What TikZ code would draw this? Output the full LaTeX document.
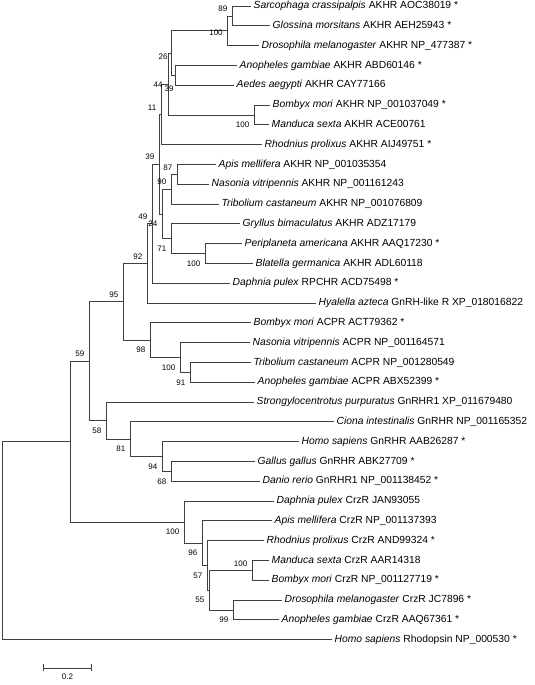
\documentclass[tikz,border=0pt]{standalone}
\usepackage{fontspec}
\setmainfont{Liberation Sans}
\usepackage{tikz}
\usetikzlibrary{arrows.meta,positioning}

\begin{document}
\begin{tikzpicture}[x=1pt,y=-19.8pt,
      br/.style={draw=black!75,line width=.7pt},
      leaf/.style={anchor=west,inner xsep=2.5pt,inner ysep=0pt,text height=7.4pt,text depth=2.2pt,
        font=\fontsize{10.3}{12}\selectfont},
      bs/.style={inner sep=1pt,font=\fontsize{8}{9.6}\selectfont},
      bsa/.style={bs,anchor=east,xshift=-3.5pt,yshift=7pt},
      bsb/.style={bs,anchor=east,xshift=-3.5pt,yshift=-10pt}]
  \useasboundingbox (0pt,6pt) rectangle (535pt,-679pt);
  % taxa
  \node[leaf] (scAKHR) at (251,0) {\textit{Sarcophaga crassipalpis} AKHR AOC38019 *};
  \node[leaf] (gmAKHR) at (270,1) {\textit{Glossina morsitans} AKHR AEH25943 *};
  \node[leaf] (dmAKHR) at (259,2) {\textit{Drosophila melanogaster} AKHR NP\_477387 *};
  \node[leaf] (agAKHR) at (237,3) {\textit{Anopheles gambiae} AKHR ABD60146 *};
  \node[leaf] (aeAKHR) at (234,4) {\textit{Aedes aegypti} AKHR CAY77166};
  \node[leaf] (bmAKHR) at (270,5) {\textit{Bombyx mori} AKHR NP\_001037049 *};
  \node[leaf] (msAKHR) at (269,6) {\textit{Manduca sexta} AKHR ACE00761};
  \node[leaf] (rpAKHR) at (262,7) {\textit{Rhodnius prolixus} AKHR AIJ49751 *};
  \node[leaf] (amAKHR) at (216,8) {\textit{Apis mellifera} AKHR NP\_001035354};
  \node[leaf] (nvAKHR) at (209,9) {\textit{Nasonia vitripennis} AKHR NP\_001161243};
  \node[leaf] (tcAKHR) at (219,10) {\textit{Tribolium castaneum} AKHR NP\_001076809};
  \node[leaf] (gbAKHR) at (240,11) {\textit{Gryllus bimaculatus} AKHR ADZ17179};
  \node[leaf] (paAKHR) at (242,12) {\textit{Periplaneta americana} AKHR AAQ17230 *};
  \node[leaf] (bgAKHR) at (253,13) {\textit{Blatella germanica} AKHR ADL60118};
  \node[leaf] (dpRPCHR) at (230,14) {\textit{Daphnia pulex} RPCHR ACD75498 *};
  \node[leaf] (haGnRH) at (316,15) {\textit{Hyalella azteca} GnRH-like R XP\_018016822};
  \node[leaf] (bmACPR) at (251,16) {\textit{Bombyx mori} ACPR ACT79362 *};
  \node[leaf] (nvACPR) at (250,17) {\textit{Nasonia vitripennis} ACPR NP\_001164571};
  \node[leaf] (tcACPR) at (251,18) {\textit{Tribolium castaneum} ACPR NP\_001280549};
  \node[leaf] (agACPR) at (255,19) {\textit{Anopheles gambiae} ACPR ABX52399 *};
  \node[leaf] (spGnRHR) at (254,20) {\textit{Strongylocentrotus purpuratus} GnRHR1 XP\_011679480};
  \node[leaf] (ciGnRHR) at (334,21) {\textit{Ciona intestinalis} GnRHR NP\_001165352};
  \node[leaf] (hsGnRHR) at (299,22) {\textit{Homo sapiens} GnRHR AAB26287 *};
  \node[leaf] (ggGnRHR) at (255,23) {\textit{Gallus gallus} GnRHR ABK27709 *};
  \node[leaf] (drGnRHR) at (260,24) {\textit{Danio rerio} GnRHR1 NP\_001138452 *};
  \node[leaf] (dpCrzR) at (274,25) {\textit{Daphnia pulex} CrzR JAN93055};
  \node[leaf] (amCrzR) at (272,26) {\textit{Apis mellifera} CrzR NP\_001137393};
  \node[leaf] (rpCrzR) at (264,27) {\textit{Rhodnius prolixus} CrzR AND99324 *};
  \node[leaf] (msCrzR) at (269,28) {\textit{Manduca sexta} CrzR AAR14318};
  \node[leaf] (bmCrzR) at (269,29) {\textit{Bombyx mori} CrzR NP\_001127719 *};
  \node[leaf] (dmCrzR) at (282,30) {\textit{Drosophila melanogaster} CrzR JC7896 *};
  \node[leaf] (agCrzR) at (279,31) {\textit{Anopheles gambiae} CrzR AAQ67361 *};
  \node[leaf] (hsRho) at (332,32) {\textit{Homo sapiens} Rhodopsin NP\_000530 *};
  % internal nodes
  \coordinate (dip) at (232,0.5);
  \coordinate (brach) at (227,1.25);
  \coordinate (culic) at (175,3.5);
  \coordinate (dipt) at (171,2.375);
  \coordinate (lepA) at (254,5.5);
  \coordinate (holo) at (168,3.9375);
  \coordinate (akhrA) at (161,5.469);
  \coordinate (hymA) at (177,8.5);
  \coordinate (hymtc) at (171,9.25);
  \coordinate (blat) at (205,12.5);
  \coordinate (polyneo) at (171,11.75);
  \coordinate (akhrB) at (162,10.5);
  \coordinate (akhr) at (159,7.984);
  \coordinate (rpch) at (152,10.992);
  \coordinate (akhrH) at (147,12.996);
  \coordinate (acprC) at (190,18.5);
  \coordinate (acprB) at (180,17.75);
  \coordinate (acpr) at (150,16.875);
  \coordinate (akhrACPR) at (123,14.936);
  \coordinate (gnrhF) at (171,23.5);
  \coordinate (gnrhV) at (162,22.75);
  \coordinate (gnrhC) at (130,21.875);
  \coordinate (gnrh) at (106,20.9375);
  \coordinate (invGnrh) at (89,17.936);
  \coordinate (lepC) at (252,28.5);
  \coordinate (dipC) at (233,30.5);
  \coordinate (holoC) at (209,29.5);
  \coordinate (insC1) at (207,28.25);
  \coordinate (insC2) at (202,27.125);
  \coordinate (crz) at (184,26.0625);
  \coordinate (gpcr) at (70,22);
  \coordinate (root) at (2,27);
  % branches
  \draw[br] (dip) |- (scAKHR.west) (dip) |- (gmAKHR.west);
  \draw[br] (brach) |- (dip) (brach) |- (dmAKHR.west);
  \draw[br] (culic) |- (agAKHR.west) (culic) |- (aeAKHR.west);
  \draw[br] (dipt) |- (brach) (dipt) |- (culic);
  \draw[br] (lepA) |- (bmAKHR.west) (lepA) |- (msAKHR.west);
  \draw[br] (holo) |- (dipt) (holo) |- (lepA);
  \draw[br] (akhrA) |- (holo) (akhrA) |- (rpAKHR.west);
  \draw[br] (hymA) |- (amAKHR.west) (hymA) |- (nvAKHR.west);
  \draw[br] (hymtc) |- (hymA) (hymtc) |- (tcAKHR.west);
  \draw[br] (blat) |- (paAKHR.west) (blat) |- (bgAKHR.west);
  \draw[br] (polyneo) |- (gbAKHR.west) (polyneo) |- (blat);
  \draw[br] (akhrB) |- (hymtc) (akhrB) |- (polyneo);
  \draw[br] (akhr) |- (akhrA) (akhr) |- (akhrB);
  \draw[br] (rpch) |- (akhr) (rpch) |- (dpRPCHR.west);
  \draw[br] (akhrH) |- (rpch) (akhrH) |- (haGnRH.west);
  \draw[br] (acprC) |- (tcACPR.west) (acprC) |- (agACPR.west);
  \draw[br] (acprB) |- (nvACPR.west) (acprB) |- (acprC);
  \draw[br] (acpr) |- (bmACPR.west) (acpr) |- (acprB);
  \draw[br] (akhrACPR) |- (akhrH) (akhrACPR) |- (acpr);
  \draw[br] (gnrhF) |- (ggGnRHR.west) (gnrhF) |- (drGnRHR.west);
  \draw[br] (gnrhV) |- (hsGnRHR.west) (gnrhV) |- (gnrhF);
  \draw[br] (gnrhC) |- (ciGnRHR.west) (gnrhC) |- (gnrhV);
  \draw[br] (gnrh) |- (spGnRHR.west) (gnrh) |- (gnrhC);
  \draw[br] (invGnrh) |- (akhrACPR) (invGnrh) |- (gnrh);
  \draw[br] (lepC) |- (msCrzR.west) (lepC) |- (bmCrzR.west);
  \draw[br] (dipC) |- (dmCrzR.west) (dipC) |- (agCrzR.west);
  \draw[br] (holoC) |- (lepC) (holoC) |- (dipC);
  \draw[br] (insC1) |- (rpCrzR.west) (insC1) |- (holoC);
  \draw[br] (insC2) |- (amCrzR.west) (insC2) |- (insC1);
  \draw[br] (crz) |- (dpCrzR.west) (crz) |- (insC2);
  \draw[br] (gpcr) |- (invGnrh) (gpcr) |- (crz);
  \draw[br] (root) |- (gpcr) (root) |- (hsRho.west);
  % bootstrap values
  \node[bsa] (b89) at (dip) {89};
  \node[bs] (b100a) at (216,1.36) {100};
  \node[bs] (b26) at (163,2.58) {26};
  \node[bs] (b44) at (158,3.97) {44};
  \node[bs] (b39a) at (169,4.2) {39};
  \node[bsb] (b100b) at (lepA) {100};
  \node[bsa] (b11) at (akhrA) {11};
  \node[bsa] (b87) at (hymA) {87};
  \node[bsa] (b90) at (hymtc) {90};
  \node[bsb] (b71) at (polyneo) {71};
  \node[bsb] (b100c) at (blat) {100};
  \node[bsb] (b24) at (akhrB) {24};
  \node[bsa] (b39b) at (akhr) {39};
  \node[bsa] (b49) at (rpch) {49};
  \node[bsa] (b92) at (akhrH) {92};
  \node[bsa] (b95) at (akhrACPR) {95};
  \node[bsb] (b98) at (acpr) {98};
  \node[bsb] (b100d) at (acprB) {100};
  \node[bsb] (b91) at (acprC) {91};
  \node[bsa] (b59) at (invGnrh) {59};
  \node[bsb] (b58) at (gnrh) {58};
  \node[bsb] (b81) at (gnrhC) {81};
  \node[bsb] (b94) at (gnrhV) {94};
  \node[bsb] (b68) at (gnrhF) {68};
  \node[bsb] (b100e) at (crz) {100};
  \node[bsb] (b96) at (insC2) {96};
  \node[bsb] (b57) at (insC1) {57};
  \node[bsb] (b55) at (holoC) {55};
  \node[bsa] (b100f) at (lepC) {100};
  \node[bsb] (b99) at (dipC) {99};
  % scale bar
  \coordinate (sbl) at (43,33.43);
  \coordinate (sbr) at (92,33.43);
  \draw[br,{Bar[width=7pt]}-{Bar[width=7pt]}] (sbl) -- (sbr);
  \path (sbl) -- (sbr) node[midway,bs,below=4.5pt] (sblab) {0.2};
\end{tikzpicture}
\end{document}
